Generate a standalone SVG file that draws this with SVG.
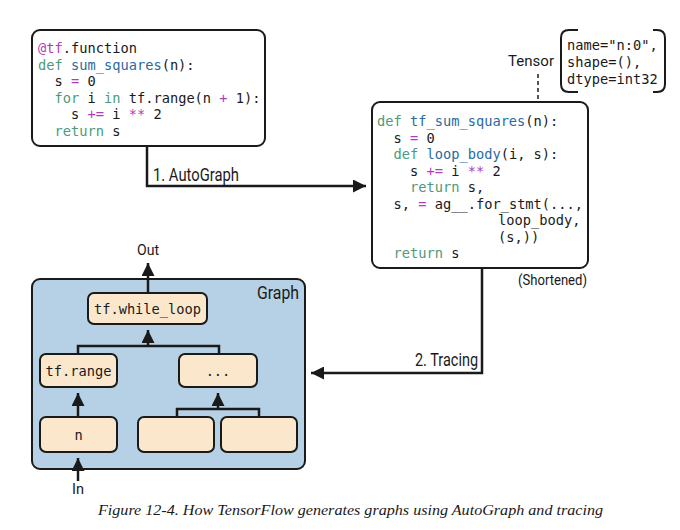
<svg xmlns="http://www.w3.org/2000/svg" width="680" height="530" viewBox="0 0 680 530">
<defs>
<style>
.code{font-family:"DejaVu Sans Mono",monospace;font-size:13.7px;fill:#1a1a1a}
.kw{fill:#4e9a7a}
.fn{fill:#2a6aa0}
.op{fill:#b03cbc}
.lbl{font-family:Roboto,"Liberation Sans",sans-serif;font-size:17.5px;fill:#1a1a1a}
.sm{font-size:15.5px}
.box{fill:#ffffff;stroke:#1a1a1a;stroke-width:2}
.node{fill:#fbe8cc;stroke:#1a1a1a;stroke-width:2}
.wire{fill:none;stroke:#1a1a1a;stroke-width:2.5}
.cap{font-family:"Liberation Serif",serif;font-style:italic;font-size:15px;fill:#1a1a1a}
</style>
<marker id="ah" viewBox="0 0 10 10" refX="10" refY="5" markerWidth="5.2" markerHeight="5.2" markerUnits="strokeWidth" orient="auto">
<path d="M0,0 L10,5 L0,10 Z" fill="#1a1a1a"/>
</marker>
</defs>

<g id="graph-container">
<rect x="32" y="279" width="273" height="190" rx="8" fill="#b6d1e6" stroke="#1a1a1a" stroke-width="2"/>
<text class="lbl" x="299" y="299" text-anchor="end" textLength="42" lengthAdjust="spacingAndGlyphs">Graph</text>
</g>

<g id="connectors">
<polyline class="wire" points="147,146 147,186 366,186" marker-end="url(#ah)"/>
<polyline class="wire" points="482,268 482,373 311,373" marker-end="url(#ah)"/>
<line x1="538" y1="74" x2="538" y2="108" stroke="#1a1a1a" stroke-width="1.5" stroke-dasharray="4,3"/>
<path d="M534.5,107 L541.5,107 L538,114 Z" fill="#1a1a1a"/>
<line class="wire" x1="148" y1="293" x2="148" y2="263" marker-end="url(#ah)"/>
<polyline class="wire" points="78,354 78,346 219,346 219,354"/>
<line class="wire" x1="148" y1="346" x2="148" y2="330" marker-end="url(#ah)"/>
<line class="wire" x1="78" y1="417" x2="78" y2="393" marker-end="url(#ah)"/>
<polyline class="wire" points="177,417 177,409 259,409 259,417"/>
<line class="wire" x1="218" y1="409" x2="218" y2="393" marker-end="url(#ah)"/>
<line class="wire" x1="78" y1="481" x2="78" y2="458" marker-end="url(#ah)"/>
<text class="lbl" x="153" y="181" textLength="86" lengthAdjust="spacingAndGlyphs">1. AutoGraph</text>
<text class="lbl" x="478" y="366" text-anchor="end" textLength="63" lengthAdjust="spacingAndGlyphs">2. Tracing</text>
<text class="lbl sm" x="508" y="66" textLength="46" lengthAdjust="spacingAndGlyphs">Tensor</text>
<text class="lbl sm" x="137" y="255" textLength="22" lengthAdjust="spacingAndGlyphs">Out</text>
<text class="lbl sm" x="72" y="494" textLength="12" lengthAdjust="spacingAndGlyphs">In</text>
</g>

<g id="source-code">
<rect class="box" x="32" y="30" width="233" height="116" rx="8"/>
<text class="code" x="38" y="53"><tspan class="op">@tf</tspan>.function</text>
<text class="code" x="38" y="69.5"><tspan class="kw">def</tspan> <tspan class="fn">sum_squares</tspan>(n):</text>
<text class="code" x="54.5" y="86">s <tspan class="op">=</tspan> 0</text>
<text class="code" x="54.5" y="102.5"><tspan class="kw">for</tspan> i <tspan class="kw">in</tspan> tf.range(n <tspan class="op">+</tspan> 1):</text>
<text class="code" x="71" y="119">s <tspan class="op">+=</tspan> i <tspan class="op">**</tspan> 2</text>
<text class="code" x="54.5" y="135.5"><tspan class="kw">return</tspan> s</text>
</g>

<g id="autograph-code">
<rect class="box" x="372" y="102" width="216" height="166" rx="8"/>
<text class="code" x="377" y="126"><tspan class="kw">def</tspan> <tspan class="fn">tf_sum_squares</tspan>(n):</text>
<text class="code" x="393.5" y="142.5">s <tspan class="op">=</tspan> 0</text>
<text class="code" x="393.5" y="159"><tspan class="kw">def</tspan> <tspan class="fn">loop_body</tspan>(i, s):</text>
<text class="code" x="410" y="175.5">s <tspan class="op">+=</tspan> i <tspan class="op">**</tspan> 2</text>
<text class="code" x="410" y="192"><tspan class="kw">return</tspan> s,</text>
<text class="code" x="393.5" y="208.5">s, <tspan class="op">=</tspan> ag__.for_stmt(...,</text>
<text class="code" x="498" y="225">loop_body,</text>
<text class="code" x="498" y="241.5">(s,))</text>
<text class="code" x="393.5" y="258"><tspan class="kw">return</tspan> s</text>
<text class="lbl sm" x="587" y="285" text-anchor="end" textLength="69" lengthAdjust="spacingAndGlyphs">(Shortened)</text>
</g>

<g id="tensor-info">
<path d="M578,30 H569 Q561,30 561,38 V84 Q561,92 569,92 H578" fill="none" stroke="#1a1a1a" stroke-width="2"/>
<path d="M653,30 H657 Q665,30 665,38 V84 Q665,92 657,92 H653" fill="none" stroke="#1a1a1a" stroke-width="2"/>
<text class="code" x="567" y="50">name="n:0",</text>
<text class="code" x="567" y="67">shape=(),</text>
<text class="code" x="567" y="84">dtype=int32</text>
</g>

<g id="node-while-loop">
<rect class="node" x="88" y="293" width="119" height="31" rx="6"/>
<text class="code" x="147.5" y="313.5" text-anchor="middle">tf.while_loop</text>
</g>
<g id="node-range">
<rect class="node" x="40" y="354" width="77" height="33" rx="6"/>
<text class="code" x="78.5" y="375.5" text-anchor="middle">tf.range</text>
</g>
<g id="node-ellipsis">
<rect class="node" x="179" y="354" width="78" height="33" rx="6"/>
<text class="code" x="218" y="375.5" text-anchor="middle">...</text>
</g>
<g id="node-n">
<rect class="node" x="40" y="417" width="77" height="35" rx="6"/>
<text class="code" x="78.5" y="439.5" text-anchor="middle">n</text>
</g>
<g id="node-empty-1">
<rect class="node" x="138" y="417" width="76" height="35" rx="6"/>
</g>
<g id="node-empty-2">
<rect class="node" x="221" y="417" width="76" height="35" rx="6"/>
</g>

<text class="cap" x="98" y="515" textLength="505" lengthAdjust="spacingAndGlyphs">Figure 12-4. How TensorFlow generates graphs using AutoGraph and tracing</text>
</svg>
